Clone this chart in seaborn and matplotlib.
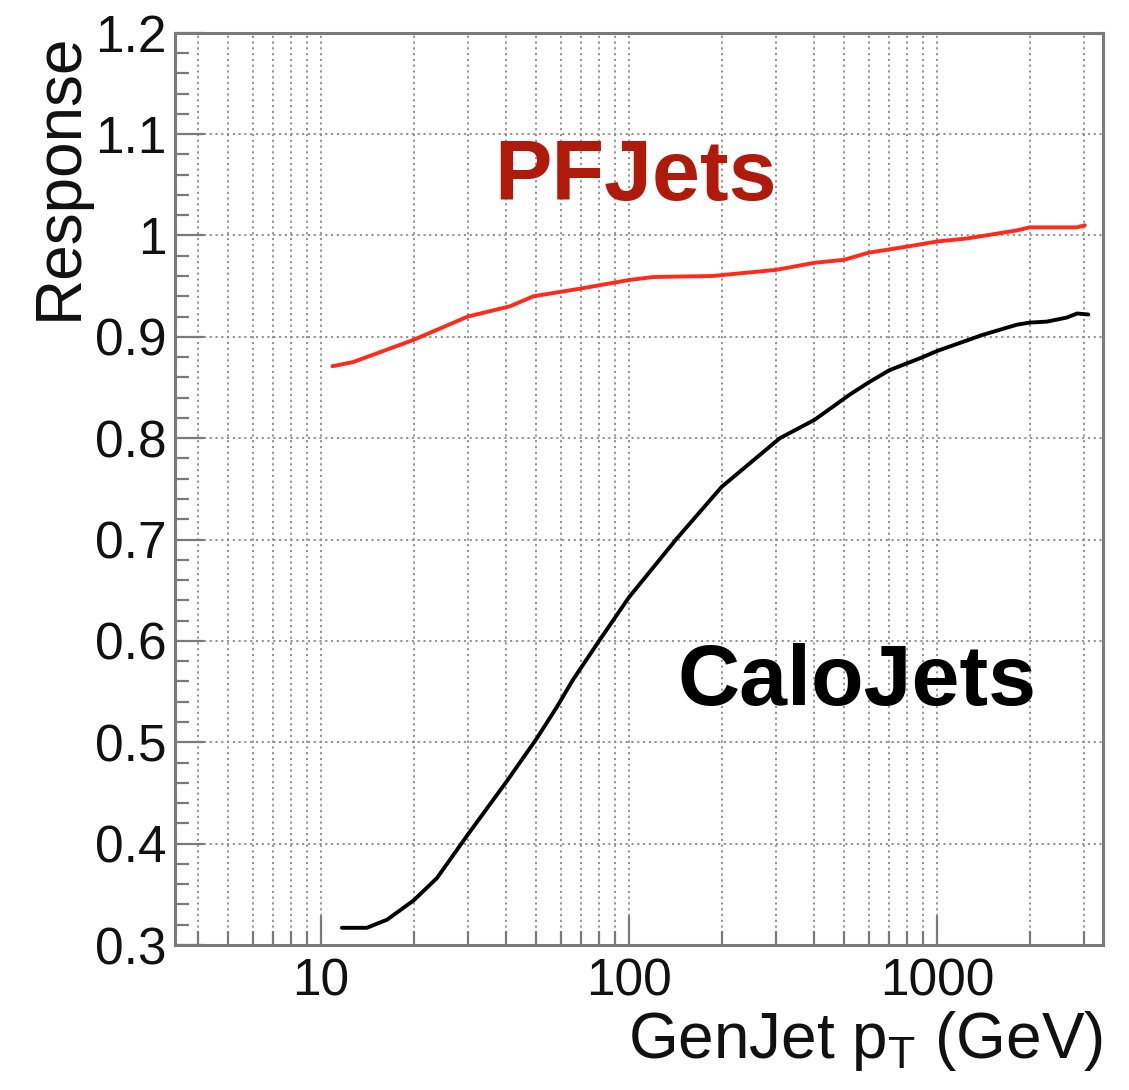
import matplotlib
matplotlib.use("Agg")
import matplotlib.pyplot as plt
import matplotlib.ticker as mticker
import numpy as np
import pandas as pd
import seaborn as sns

# Jet response versus generated jet pT
pf_pt = [10.9, 12.7, 20, 30, 41, 49, 71, 100, 120, 187, 202, 300, 400, 500,
         600, 800, 1000, 1250, 1820, 2000, 2850, 3020]
pf_resp = [0.871, 0.875, 0.897, 0.920, 0.930, 0.940, 0.948, 0.956, 0.959,
           0.960, 0.961, 0.966, 0.973, 0.976, 0.983, 0.989, 0.994, 0.997,
           1.005, 1.008, 1.008, 1.010]

calo_pt = [11.7, 14.1, 16.4, 20, 23.8, 30, 40, 50, 58.4, 65.6, 80.4, 100, 143,
           200, 309, 400, 521, 600, 700, 900, 1000, 1410, 1820, 2000, 2275,
           2640, 2850, 3100]
calo_resp = [0.317, 0.317, 0.325, 0.344, 0.366, 0.409, 0.461, 0.503, 0.535,
             0.561, 0.601, 0.643, 0.701, 0.752, 0.800, 0.818, 0.843, 0.855,
             0.867, 0.880, 0.886, 0.902, 0.912, 0.914, 0.915, 0.919, 0.923,
             0.922]

series_names = ["PFJets", "CaloJets"]
series_colors = {"PFJets": "#ff2a1a", "CaloJets": "#000000"}
label_colors = {"PFJets": "#b01a0a", "CaloJets": "#000000"}

x_ticks = [10, 100, 1000]
y_ticks = [0.3, 0.4, 0.5, 0.6, 0.7, 0.8, 0.9, 1.0, 1.1, 1.2]

df = pd.concat([
    pd.DataFrame({"pt": pf_pt, "resp": pf_resp, "jets": "PFJets"}),
    pd.DataFrame({"pt": calo_pt, "resp": calo_resp, "jets": "CaloJets"}),
], ignore_index=True)

sns.set_theme(style="white")
plt.rcParams["font.family"] = ["Liberation Sans", "DejaVu Sans"]
plt.rcParams["mathtext.default"] = "regular"

fig = plt.figure(figsize=(11.29, 10.90), dpi=100)
ax = fig.add_axes([0.155, 0.133, 0.822, 0.837])

sns.lineplot(data=df, x="pt", y="resp", hue="jets", hue_order=series_names,
             palette=series_colors, linewidth=2.8, legend=False, ax=ax,
             sort=True, estimator=None)
for ln in ax.get_lines():
    ln.set_solid_joinstyle("round")
    ln.set_solid_capstyle("round")

ax.set_xscale("log")
ax.set_xlim(3.36, 3460)
ax.set_ylim(0.3, 1.2)

ax.xaxis.set_major_locator(mticker.FixedLocator(x_ticks))
ax.xaxis.set_major_formatter(mticker.FuncFormatter(lambda v, p: f"{v:g}"))
ax.xaxis.set_minor_locator(mticker.LogLocator(base=10, subs=np.arange(2, 10), numticks=20))
ax.xaxis.set_minor_formatter(mticker.NullFormatter())
ax.yaxis.set_major_locator(mticker.FixedLocator(y_ticks))
ax.yaxis.set_major_formatter(mticker.FuncFormatter(lambda v, p: f"{v:g}"))
ax.yaxis.set_minor_locator(mticker.MultipleLocator(0.02))

frame_col = "#7a7a7a"
for s in ax.spines.values():
    s.set_color(frame_col)
    s.set_linewidth(2.2)

ax.tick_params(which="both", direction="in", color=frame_col, width=1.6,
               top=False, right=False, bottom=True, left=True)
ax.tick_params(which="major", length=21, labelsize=37, labelcolor="#111111")
ax.tick_params(which="minor", length=10)
ax.tick_params(axis="x", which="major", pad=9)
ax.tick_params(axis="y", which="major", pad=6)

grid_kw = dict(color="#8a8a8a", linestyle=(0, (1.2, 2.0)), linewidth=1.3)
ax.grid(axis="x", which="both", **grid_kw)
ax.grid(axis="y", which="major", **grid_kw)
ax.set_axisbelow(True)

ax.set_xlabel("GenJet p$_{T}$ (GeV)", fontsize=46, loc="right", labelpad=2,
              color="#111111")
ax.set_ylabel("Response", fontsize=46, loc="top", labelpad=4, color="#111111")

anno_font = ["Liberation Sans Narrow", "Liberation Sans", "DejaVu Sans"]
ax.text(105, 1.057, "PFJets", fontsize=62, fontweight="bold", family=anno_font,
        color=label_colors["PFJets"], ha="center", va="center")
ax.text(550, 0.558, "CaloJets", fontsize=62, fontweight="bold", family=anno_font,
        color=label_colors["CaloJets"], ha="center", va="center")

fig.savefig("out.png", dpi=100)
